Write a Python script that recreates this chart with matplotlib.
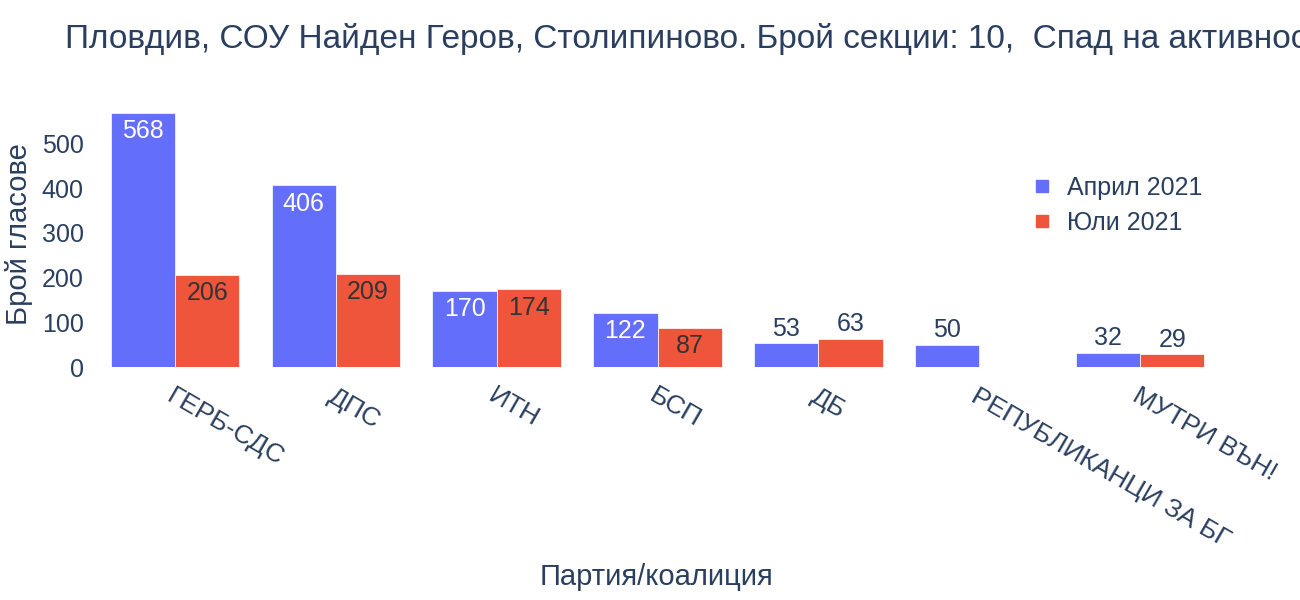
import matplotlib
matplotlib.use("Agg")
import matplotlib.pyplot as plt
from matplotlib.lines import Line2D
import numpy as np

categories = ["ГЕРБ-СДС", "ДПС", "ИТН", "БСП", "ДБ", "РЕПУБЛИКАНЦИ ЗА БГ", "МУТРИ ВЪН!"]
april = [568, 406, 170, 122, 53, 50, 32]
july = [206, 209, 174, 87, 63, 0, 29]
series_names = ["Април 2021", "Юли 2021"]
colors = ["#636efa", "#ef553b"]
title = "Пловдив, СОУ Найден Геров, Столипиново. Брой секции: 10,  Спад на активността"

plt.rcParams['font.family'] = ['Liberation Sans', 'DejaVu Sans']
txt = "#2a3f5f"
fig = plt.figure(figsize=(13, 6), dpi=100)
ax = fig.add_axes([0.0728, 0.388, 0.866, 0.445])
x = np.arange(len(categories))
w = 0.4
ymax = 596
for vals, off, col in [(april, -w/2, colors[0]), (july, w/2, colors[1])]:
    ax.bar(x + off, vals, w, color=col, edgecolor="white", linewidth=0.5)
    for xi, v in zip(x + off, vals):
        if v == 0:
            continue
        if v > 80:
            tc = "white" if col == colors[0] else "#333333"
            ax.text(xi, v - 14, str(v), ha="center", va="top", fontsize=18, color=tc)
        else:
            ax.text(xi, v + 6, str(v), ha="center", va="bottom", fontsize=18, color=txt)
ax.set_xlim(-0.5, len(categories) - 0.5)
ax.set_ylim(0, ymax)
ax.set_yticks([0, 100, 200, 300, 400, 500])
ax.tick_params(axis="y", labelsize=18, colors=txt, length=0, pad=8)
ax.set_xticks(x)
ax.set_xticklabels(categories, rotation=-30, ha="left", rotation_mode="anchor", fontsize=19, color=txt)
ax.tick_params(axis="x", length=0, pad=12)
for s in ax.spines.values():
    s.set_visible(False)
ax.set_ylabel("Брой гласове", fontsize=21, color=txt, labelpad=6)
fig.text(0.505, 0.025, "Партия/коалиция", ha="center", fontsize=21, color=txt)
fig.text(0.05, 0.935, title, ha="left", va="center", fontsize=24, color=txt)
handles = [Line2D([], [], marker="s", linestyle="none", color=c, markersize=9) for c in colors]
fig.legend(handles, series_names, loc="upper left", bbox_to_anchor=(0.765, 0.745),
           frameon=False, fontsize=18, labelcolor=txt, handletextpad=0.0, labelspacing=0.45)
fig.savefig("out.png", dpi=100)
